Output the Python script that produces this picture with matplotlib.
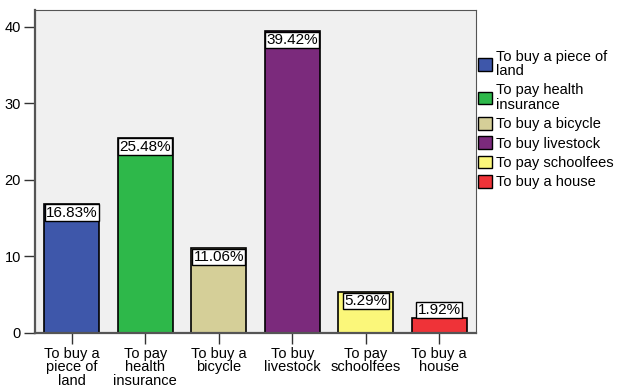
import matplotlib.pyplot as plt
import numpy as np

plt.rcParams['font.family'] = ['Liberation Sans', 'DejaVu Sans']

categories = ["To buy a piece of land", "To pay health insurance", "To buy a bicycle",
              "To buy livestock", "To pay schoolfees", "To buy a house"]
tick_labels = ["To buy a\npiece of\nland", "To pay\nhealth\ninsurance", "To buy a\nbicycle",
               "To buy\nlivestock", "To pay\nschoolfees", "To buy a\nhouse"]
legend_labels = ["To buy a piece of\nland", "To pay health\ninsurance", "To buy a bicycle",
                 "To buy livestock", "To pay schoolfees", "To buy a house"]
percent = [16.83, 25.48, 11.06, 39.42, 5.29, 1.92]
colors = ["#3e57aa", "#2eb84a", "#d5cf98", "#7b2a7c", "#fbf77a", "#ef3338"]

fig = plt.figure(figsize=(6.23, 3.88), dpi=100)
ax = fig.add_axes([0.0562, 0.1418, 0.7078, 0.8324])
ax.set_facecolor('#f0f0f0')
x = np.arange(len(percent))
bars = ax.bar(x, percent, width=0.75, color=colors, edgecolor='black', linewidth=1.2)

for xi, v in zip(x, percent):
    txt = "%.2f%%" % v
    if v > 4:
        ax.text(xi, v - 0.2, txt, ha='center', va='top', fontsize=11,
                bbox=dict(boxstyle='square,pad=0.08', fc='white', ec='black', lw=1))
    else:
        ax.text(xi, v + 0.2, txt, ha='center', va='bottom', fontsize=11,
                bbox=dict(boxstyle='square,pad=0.08', fc='white', ec='black', lw=1))

ax.set_xlim(-0.5, 5.5)
ax.set_ylim(0, 42.2)
ax.set_yticks([0, 10, 20, 30, 40])
ax.set_xticks(x)
ax.set_xticklabels(tick_labels, fontsize=10.5, linespacing=0.95)
ax.tick_params(axis='both', direction='out', length=8, width=1, colors='#333333',
               labelcolor='black', labelsize=10.5, pad=2)
for s in ax.spines.values():
    s.set_color('#555555')
ax.spines['left'].set_linewidth(1.6)
ax.spines['bottom'].set_linewidth(1.6)

handles = [plt.Rectangle((0, 0), 1, 1, fc=c, ec='black', lw=1) for c in colors]
leg = fig.legend(handles, legend_labels, loc='upper left', bbox_to_anchor=(0.768, 0.872),
                 frameon=False, handlelength=0.95, handleheight=0.95,
                 handletextpad=0.25, labelspacing=0.35, borderaxespad=0, borderpad=0,
                 prop={'size': 10.5})
for t in leg.get_texts():
    t.set_linespacing(1.05)

fig.savefig('out.png', dpi=100)
